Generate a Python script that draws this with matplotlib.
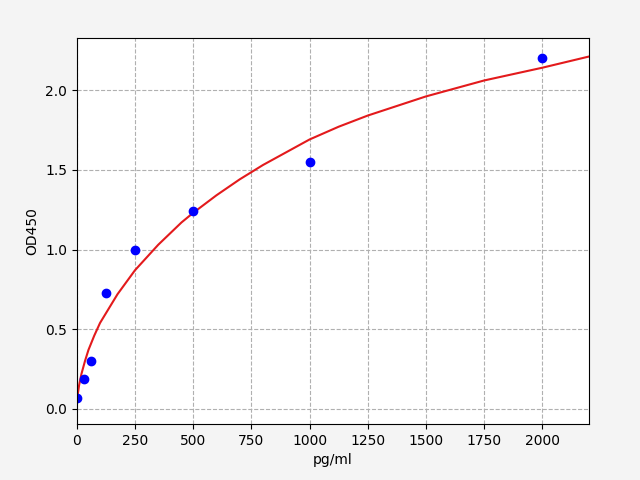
import matplotlib
matplotlib.use("Agg")
import matplotlib.pyplot as plt

conc = [0, 31.25, 62.5, 125, 250, 500, 1000, 2000]
od = [0.07, 0.19, 0.30, 0.73, 1.00, 1.24, 1.55, 2.20]

curve_x = [0, 5, 10, 20, 35, 50, 75, 100, 125, 150, 175, 200, 250, 300, 350, 400, 450, 500, 600, 700, 800, 900, 1000, 1125, 1250, 1375, 1500, 1625, 1750, 1875, 2000, 2100, 2200]
curve_y = [0.04, 0.10, 0.15, 0.22, 0.30, 0.37, 0.46, 0.54, 0.60, 0.66, 0.72, 0.77, 0.87, 0.95, 1.03, 1.10, 1.17, 1.23, 1.34, 1.44, 1.53, 1.61, 1.69, 1.77, 1.84, 1.90, 1.96, 2.01, 2.06, 2.10, 2.14, 2.175, 2.21]

fig = plt.figure(figsize=(6.4, 4.8), dpi=100, facecolor="#f4f4f4")
ax = fig.add_axes([0.12, 0.1167, 0.8, 0.804])
ax.grid(True, linestyle="--", color="#b0b0b0")
ax.plot(curve_x, curve_y, color="#e31a1c", lw=1.5)
ax.plot(conc, od, "o", color="blue")
ax.set_xlim(0, 2200)
ax.set_ylim(-0.094, 2.326)
ax.set_xlabel("pg/ml")
ax.set_ylabel("OD450")
fig.savefig("out.png", facecolor=fig.get_facecolor())
